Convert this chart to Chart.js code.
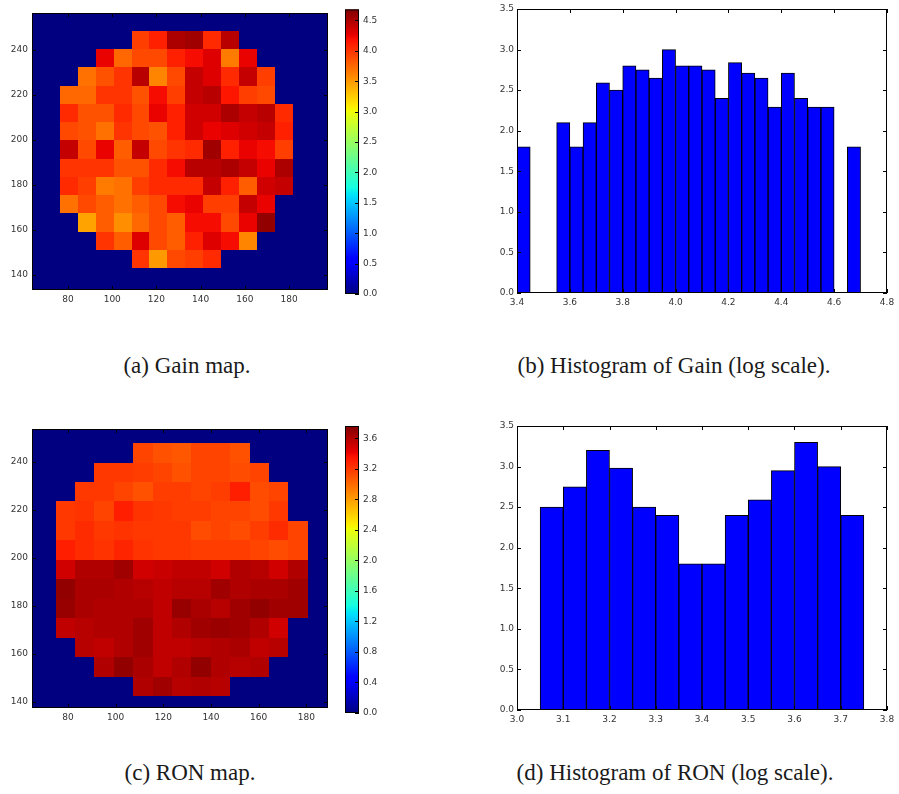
<!DOCTYPE html>
<html>
<head>
<meta charset="utf-8">
<script src="https://cdn.jsdelivr.net/npm/chart.js@4.4.1/dist/chart.umd.min.js"></script>
<style>
  html, body { margin: 0; padding: 0; background: #fff; }
  body { width: 899px; height: 794px; position: relative; overflow: hidden; }
  canvas { position: absolute; }
  .cap { position: absolute; font-family: 'Liberation Serif', 'Times New Roman', serif; font-size: 23px; color: #1a1a1a; white-space: nowrap; transform: translateX(-50%); line-height: 26px; }
</style>
</head>
<body>
<canvas id="gainMap" width="336" height="330" style="left:0;top:0"></canvas>
<canvas id="gainBar" width="64" height="330" style="left:336px;top:0"></canvas>
<canvas id="gainHist" width="429" height="330" style="left:470px;top:0"></canvas>
<canvas id="ronMap" width="336" height="330" style="left:0;top:410px"></canvas>
<canvas id="ronBar" width="64" height="330" style="left:336px;top:410px"></canvas>
<canvas id="ronHist" width="429" height="330" style="left:470px;top:410px"></canvas>

<div class="cap" style="left:187px;top:353px">(a) Gain map.</div>
<div class="cap" style="left:674px;top:353px">(b) Histogram of Gain (log scale).</div>
<div class="cap" style="left:190px;top:760px">(c) RON map.</div>
<div class="cap" style="left:675px;top:760px">(d) Histogram of RON (log scale).</div>

<script>
// --- Datos ---

// Gain map: centros de celdas (x de izquierda a derecha, y de arriba abajo)
const gainCellX = [80.4, 88.5, 96.6, 104.7, 112.8, 120.9, 129.0, 137.1, 145.2, 153.3, 161.4, 169.5, 177.6];
const gainCellY = [244.3, 236.2, 228.1, 220.0, 211.9, 203.8, 195.7, 187.6, 179.5, 171.4, 163.3, 155.2, 147.1];
const gainMap = [
    [null, null, null, null, 3.95, 4.10, 4.50, 4.55, 4.05, 4.45, null, null, null],
    [null, null, 4.25, 3.75, 3.90, 3.90, 4.10, 4.20, 4.30, 3.65, 4.25, null, null],
    [null, 3.70, 3.85, 4.00, 4.45, 3.60, 3.90, 4.40, 4.30, 4.05, 4.40, 3.95, null],
    [3.75, 3.75, 4.00, 4.00, 3.85, 4.20, 3.95, 4.40, 4.45, 4.15, 3.95, 3.90, null],
    [4.05, 3.85, 3.85, 4.05, 3.90, 4.25, 4.10, 4.35, 4.35, 4.50, 4.40, 4.45, 4.05],
    [3.90, 3.85, 3.70, 4.00, 3.90, 3.85, 4.10, 4.35, 4.25, 4.30, 4.35, 4.40, 4.10],
    [4.40, 3.90, 4.25, 3.80, 4.40, 3.90, 4.00, 4.05, 4.55, 4.10, 4.25, 4.20, 3.95],
    [4.00, 4.00, 4.00, 3.85, 3.85, 4.05, 4.20, 4.45, 4.45, 4.50, 4.40, 4.25, 4.50],
    [4.05, 3.95, 3.65, 3.70, 3.95, 4.05, 4.05, 4.05, 4.40, 4.10, 3.80, 4.35, 4.40],
    [3.70, 3.90, 3.80, 3.70, 3.80, 3.90, 4.20, 4.25, 3.95, 3.95, 4.40, 4.25, null],
    [null, 3.45, 3.80, 3.55, 3.75, 3.90, 3.80, 4.20, 4.20, 3.90, 4.25, 4.60, null],
    [null, null, 4.00, 3.80, 4.30, 3.90, 3.80, 4.10, 4.30, 4.20, 3.60, null, null],
    [null, null, null, null, 4.00, 3.50, 3.90, 3.95, 4.05, null, null, null, null]
];
const gainMax = 4.68;
const gainCell = 8.15;

// RON map
const ronCellX = [78.9, 87.0, 95.1, 103.3, 111.4, 119.6, 127.7, 135.9, 144.0, 152.2, 160.3, 168.4, 176.6];
const ronCellY = [243.6, 235.5, 227.4, 219.3, 211.2, 203.1, 195.0, 186.9, 178.8, 170.7, 162.6, 154.5, 146.4];
const ronMap = [
    [null, null, null, null, 3.15, 3.10, 3.08, 3.15, 3.15, 3.10, null, null, null],
    [null, null, 3.20, 3.20, 3.18, 3.15, 3.10, 3.15, 3.15, 3.12, 3.15, null, null],
    [null, 3.20, 3.20, 3.15, 3.10, 3.18, 3.18, 3.15, 3.18, 3.30, 3.12, 3.15, null],
    [3.20, 3.22, 3.15, 3.30, 3.22, 3.20, 3.18, 3.18, 3.15, 3.15, 3.12, 3.20, null],
    [3.20, 3.25, 3.20, 3.22, 3.20, 3.20, 3.20, 3.12, 3.15, 3.12, 3.18, 3.25, 3.15],
    [3.30, 3.25, 3.22, 3.28, 3.22, 3.20, 3.20, 3.18, 3.18, 3.18, 3.15, 3.12, 3.15],
    [3.50, 3.60, 3.60, 3.65, 3.50, 3.52, 3.55, 3.55, 3.50, 3.60, 3.58, 3.50, 3.60],
    [3.70, 3.62, 3.62, 3.60, 3.58, 3.55, 3.58, 3.58, 3.65, 3.60, 3.62, 3.62, 3.65],
    [3.68, 3.62, 3.60, 3.60, 3.60, 3.55, 3.68, 3.62, 3.58, 3.65, 3.70, 3.65, 3.65],
    [3.55, 3.58, 3.60, 3.60, 3.65, 3.55, 3.60, 3.65, 3.67, 3.65, 3.60, 3.50, null],
    [null, 3.58, 3.55, 3.60, 3.65, 3.55, 3.55, 3.58, 3.60, 3.62, 3.55, 3.58, null],
    [null, null, 3.60, 3.70, 3.62, 3.55, 3.60, 3.70, 3.60, 3.58, 3.60, null, null],
    [null, null, null, null, 3.60, 3.65, 3.58, 3.60, 3.58, null, null, null, null]
];
const ronMax = 3.76;
const ronCell = 8.22;

// Histogramas (ln del conteo por bin)
const gainBins = [3.425, 3.475, 3.525, 3.575, 3.625, 3.675, 3.725, 3.775, 3.825, 3.875, 3.925, 3.975, 4.025,
                  4.075, 4.125, 4.175, 4.225, 4.275, 4.325, 4.375, 4.425, 4.475, 4.525, 4.575, 4.625, 4.675];
const gainLogCounts = [1.80, null, null, 2.10, 1.80, 2.10, 2.59, 2.50, 2.80, 2.75, 2.65, 3.00, 2.80,
                       2.80, 2.75, 2.40, 2.84, 2.71, 2.65, 2.29, 2.71, 2.40, 2.29, 2.29, null, 1.80];
const ronBins = [3.075, 3.125, 3.175, 3.225, 3.275, 3.325, 3.375, 3.425, 3.475, 3.525, 3.575, 3.625, 3.675, 3.725];
const ronLogCounts = [2.50, 2.75, 3.20, 2.98, 2.50, 2.40, 1.80, 1.80, 2.40, 2.59, 2.95, 3.30, 3.00, 2.40];

// --- Colormap jet ---
const JET = {
    r: [[0, 0], [0.35, 0], [0.66, 1], [0.89, 1], [1, 0.5]],
    g: [[0, 0], [0.125, 0], [0.375, 1], [0.64, 1], [0.91, 0], [1, 0]],
    b: [[0, 0.5], [0.11, 1], [0.34, 1], [0.65, 0], [1, 0]]
};
const JET_STOPS = [0, 0.11, 0.125, 0.34, 0.35, 0.375, 0.64, 0.65, 0.66, 0.89, 0.91, 1];

function seg(pts, t) {
    for (let i = 1; i < pts.length; i++) {
        if (t <= pts[i][0]) {
            const [t0, v0] = pts[i - 1], [t1, v1] = pts[i];
            return v0 + (v1 - v0) * (t - t0) / (t1 - t0);
        }
    }
    return pts[pts.length - 1][1];
}
function jet(t) {
    t = Math.max(0, Math.min(1, t));
    return `rgb(${Math.round(255 * seg(JET.r, t))},${Math.round(255 * seg(JET.g, t))},${Math.round(255 * seg(JET.b, t))})`;
}

// --- Plugins ---
const heatPlugin = {
    id: 'heat',
    beforeDatasetsDraw(chart, args, opts) {
        const { ctx, chartArea: a, scales: { x, y } } = chart;
        ctx.save();
        ctx.fillStyle = jet(0);
        ctx.fillRect(a.left, a.top, a.right - a.left, a.bottom - a.top);
        const h = opts.cell / 2;
        chart.data.datasets[0].data.forEach(p => {
            const x0 = Math.round(x.getPixelForValue(p.x - h)), x1 = Math.round(x.getPixelForValue(p.x + h));
            const y0 = Math.round(y.getPixelForValue(p.y + h)), y1 = Math.round(y.getPixelForValue(p.y - h));
            ctx.fillStyle = jet(p.v / opts.vmax);
            ctx.fillRect(x0, y0, x1 - x0, y1 - y0);
        });
        ctx.restore();
    }
};

const colorbarPlugin = {
    id: 'colorbar',
    beforeDatasetsDraw(chart, args, opts) {
        const { ctx, chartArea: a, scales: { y } } = chart;
        const grad = ctx.createLinearGradient(0, y.getPixelForValue(0), 0, y.getPixelForValue(opts.vmax));
        JET_STOPS.forEach(s => grad.addColorStop(s, jet(s)));
        ctx.save();
        ctx.fillStyle = grad;
        ctx.fillRect(a.left, a.top, a.right - a.left, a.bottom - a.top);
        ctx.restore();
    }
};

// marco negro con ticks hacia dentro (estilo matplotlib)
const framePlugin = {
    id: 'frame',
    afterDraw(chart, args, opts) {
        const { ctx, chartArea: a } = chart;
        const sx = chart.scales.x, sy = chart.scales.y;
        const len = 4;
        ctx.save();
        ctx.strokeStyle = '#000';
        ctx.lineWidth = 1;
        ctx.beginPath();
        if (sx && sx.options.display !== false) {
            sx.ticks.forEach(t => {
                const px = Math.round(sx.getPixelForValue(t.value)) + 0.5;
                ctx.moveTo(px, a.bottom); ctx.lineTo(px, a.bottom - len);
                ctx.moveTo(px, a.top); ctx.lineTo(px, a.top + len);
            });
        }
        sy.ticks.forEach(t => {
            const py = Math.round(sy.getPixelForValue(t.value)) + 0.5;
            if (!opts.rightOnly) { ctx.moveTo(a.left, py); ctx.lineTo(a.left + len, py); }
            ctx.moveTo(a.right, py); ctx.lineTo(a.right - len, py);
        });
        ctx.stroke();
        ctx.strokeRect(a.left + 0.5, a.top + 0.5, a.right - a.left - 1, a.bottom - a.top - 1);
        ctx.restore();
    }
};

// --- Configuración común ---
Chart.defaults.font.family = "'DejaVu Sans', sans-serif";
Chart.defaults.font.size = 9;
Chart.defaults.color = '#333';

const fmt1 = v => v.toFixed(1);

function axis(opts, size, horizontal) {
    return Object.assign({
        grid: { display: false, drawTicks: false },
        border: { display: false },
        afterFit(s) { if (horizontal) s.height = size; else s.width = size; }
    }, opts, {
        ticks: Object.assign({ padding: 4, autoSkip: false, maxRotation: 0, includeBounds: false, color: '#333' }, opts.ticks || {})
    });
}

function baseOptions(padding) {
    return {
        responsive: false,
        animation: false,
        devicePixelRatio: 1,
        events: [],
        layout: { padding: padding, autoPadding: false },
        plugins: { legend: { display: false }, tooltip: { enabled: false } }
    };
}

function cellsOf(map, cx, cy) {
    const pts = [];
    map.forEach((row, r) => row.forEach((v, c) => {
        if (v !== null) pts.push({ x: cx[c], y: cy[r], v: v });
    }));
    return pts;
}

function makeMap(id, map, cx, cy, cell, vmax, xr, yr, padTop, xHeight) {
    const options = baseOptions({ left: 0, top: padTop, right: 8, bottom: 0 });
    options.plugins.heat = { cell: cell, vmax: vmax };
    options.scales = {
        x: axis({ type: 'linear', min: xr[0], max: xr[1], ticks: { stepSize: 20 } }, xHeight, true),
        y: axis({ type: 'linear', min: yr[0], max: yr[1], ticks: { stepSize: 20 } }, 32, false)
    };
    return new Chart(document.getElementById(id), {
        type: 'scatter',
        data: { datasets: [{ data: cellsOf(map, cx, cy), pointRadius: 0 }] },
        options: options,
        plugins: [heatPlugin, framePlugin]
    });
}

function makeColorbar(id, vmax, step, padTop, padBottom) {
    const options = baseOptions({ left: 9, top: padTop, right: 0, bottom: padBottom });
    options.plugins.colorbar = { vmax: vmax };
    options.plugins.frame = { rightOnly: true };
    options.scales = {
        x: { display: false },
        y: axis({ type: 'linear', position: 'right', min: 0, max: vmax, ticks: { stepSize: step, callback: fmt1 } }, 41, false)
    };
    return new Chart(document.getElementById(id), {
        type: 'scatter',
        data: { datasets: [] },
        options: options,
        plugins: [colorbarPlugin, framePlugin]
    });
}

function makeHist(id, bins, counts, xr, xStep, padTop, xHeight) {
    const options = baseOptions({ left: 0, top: padTop, right: 12, bottom: 0 });
    options.scales = {
        x: axis({ type: 'linear', offset: false, min: xr[0], max: xr[1], ticks: { stepSize: xStep, callback: fmt1 } }, xHeight, true),
        y: axis({ type: 'linear', min: 0, max: 3.5, ticks: { stepSize: 0.5, padding: 3, callback: fmt1 } }, 47, false)
    };
    return new Chart(document.getElementById(id), {
        type: 'bar',
        data: {
            datasets: [{
                data: bins.map((b, i) => ({ x: b, y: counts[i] })),
                backgroundColor: '#0000ff',
                borderColor: '#000',
                borderWidth: { top: 1, left: 1, right: 1, bottom: 0 },
                barPercentage: 1,
                categoryPercentage: 1
            }]
        },
        options: options,
        plugins: [framePlugin]
    });
}

makeMap('gainMap', gainMap, gainCellX, gainCellY, gainCell, gainMax, [63.7, 197.6], [133.3, 256.3], 13, 40);
makeColorbar('gainBar', gainMax, 0.5, 8, 36);
makeHist('gainHist', gainBins, gainLogCounts, [3.4, 4.8], 0.2, 9, 37);

makeMap('ronMap', ronMap, ronCellX, ronCellY, ronCell, ronMax, [64.9, 189.1], [137.4, 253.6], 19, 32);
makeColorbar('ronBar', ronMax, 0.4, 16, 27);
makeHist('ronHist', ronBins, ronLogCounts, [3.0, 3.8], 0.1, 16, 30);
</script>
</body>
</html>
